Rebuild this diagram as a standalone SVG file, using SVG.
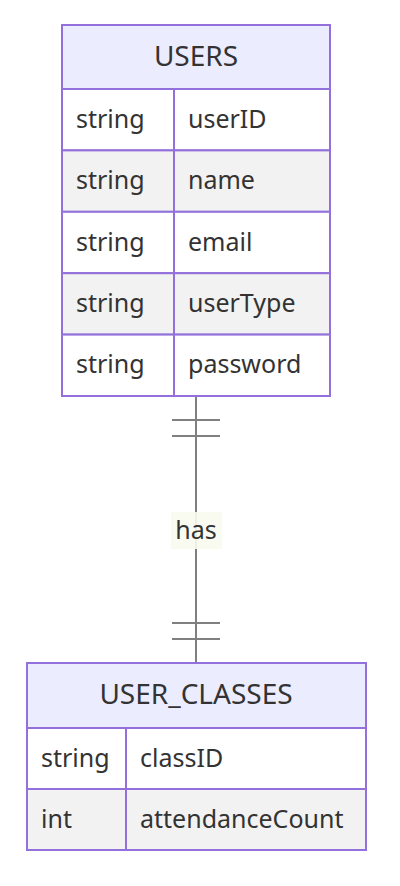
<svg xmlns="http://www.w3.org/2000/svg" width="400" height="886" viewBox="0 0 400 886">
<style>
text{font-family:"Noto Sans","DejaVu Sans",sans-serif;fill:#333;font-size:25px;dominant-baseline:central}
.hd{fill:#ECECFF;stroke:#9370DB;stroke-width:2}
.odd{fill:#ffffff;stroke:#9370DB;stroke-width:2}
.even{fill:#f2f2f2;stroke:#9370DB;stroke-width:2}
.title{text-anchor:middle;font-size:28px}
.lbl{text-anchor:middle}
.rel{stroke:#808080;stroke-width:2;fill:none}
</style>
<rect width="400" height="886" fill="#fff"/>
<g id="connectors">
<line class="rel" x1="196" y1="397" x2="196" y2="663"/>
<line class="rel" x1="172" y1="420" x2="220" y2="420"/>
<line class="rel" x1="172" y1="436" x2="220" y2="436"/>
<line class="rel" x1="172" y1="623" x2="220" y2="623"/>
<line class="rel" x1="172" y1="639" x2="220" y2="639"/>
<rect x="171" y="512" width="51" height="37" fill="#f9fbee" opacity="0.9"/>
<text x="196" y="528.5" class="lbl">has</text>
</g>
<g id="USERS">
<rect class="hd" x="62" y="25" width="268" height="64"/>
<text class="title" x="196" y="54.5">USERS</text>
<rect class="odd" x="62" y="89" width="112" height="61.4"/>
<rect class="odd" x="174" y="89" width="156" height="61.4"/>
<rect class="even" x="62" y="150.4" width="112" height="61.4"/>
<rect class="even" x="174" y="150.4" width="156" height="61.4"/>
<rect class="odd" x="62" y="211.8" width="112" height="61.4"/>
<rect class="odd" x="174" y="211.8" width="156" height="61.4"/>
<rect class="even" x="62" y="273.2" width="112" height="61.4"/>
<rect class="even" x="174" y="273.2" width="156" height="61.4"/>
<rect class="odd" x="62" y="334.6" width="112" height="61.4"/>
<rect class="odd" x="174" y="334.6" width="156" height="61.4"/>
<text x="76" y="117.7">string</text><text x="188" y="117.7">userID</text>
<text x="76" y="179.1">string</text><text x="188" y="179.1">name</text>
<text x="76" y="240.5">string</text><text x="188" y="240.5">email</text>
<text x="76" y="301.9">string</text><text x="188" y="301.9">userType</text>
<text x="76" y="363.3">string</text><text x="188" y="363.3">password</text>
</g>
<g id="USER_CLASSES">
<rect class="hd" x="27" y="663" width="339" height="65"/>
<text class="title" x="196" y="692.5">USER_CLASSES</text>
<rect class="odd" x="27" y="728" width="99" height="61"/>
<rect class="odd" x="126" y="728" width="240" height="61"/>
<rect class="even" x="27" y="789" width="99" height="61"/>
<rect class="even" x="126" y="789" width="240" height="61"/>
<text x="41" y="756.5">string</text><text x="140" y="756.5">classID</text>
<text x="41" y="817.5">int</text><text x="140" y="817.5">attendanceCount</text>
</g>
</svg>
